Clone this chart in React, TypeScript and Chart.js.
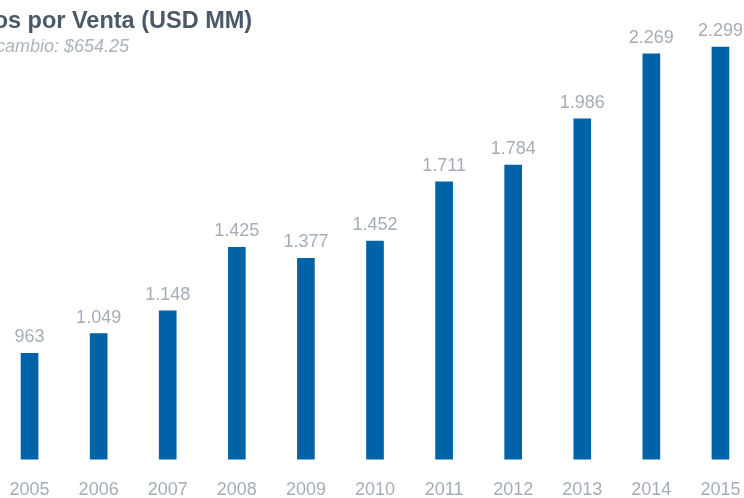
import React, { useEffect, useRef } from "react";
import { Chart, registerables } from "chart.js";

Chart.register(...registerables);

const TITLE = "Ingresos por Venta (USD MM)";
const SUBTITLE = "Tipo de cambio: $654.25";
const YEARS = ["2005", "2006", "2007", "2008", "2009", "2010", "2011", "2012", "2013", "2014", "2015"];
const SALES = [963, 1049, 1148, 1425, 1377, 1452, 1711, 1784, 1986, 2269, 2299];

const BAR_COLOR = "#0062a7";
const LABEL_COLOR = "#a4adb7";
const TITLE_COLOR = "#4a5867";
const SUB_COLOR = "#abb3bc";
const FONT = "'Liberation Sans', Arial, Helvetica, sans-serif";
const SHIFT = 70;

const fmt = (v: number) => v.toString().replace(/\B(?=(\d{3})+(?!\d))/g, ".");

const overlayPlugin = {
  id: "overlay",
  afterDatasetsDraw(chart: any) {
    const ctx = chart.ctx;
    const meta = chart.getDatasetMeta(0);
    ctx.save();
    ctx.font = `18px ${FONT}`;
    ctx.fillStyle = LABEL_COLOR;
    ctx.textAlign = "center";
    ctx.textBaseline = "alphabetic";
    meta.data.forEach((bar: any, i: number) => {
      ctx.fillText(fmt(SALES[i]), bar.x, bar.y - 11);
    });
    ctx.restore();
  },
  afterDraw(chart: any) {
    const ctx = chart.ctx;
    ctx.save();
    ctx.textAlign = "left";
    ctx.textBaseline = "alphabetic";
    ctx.font = `bold 23.5px ${FONT}`;
    ctx.fillStyle = TITLE_COLOR;
    const tx = SHIFT + 8 - ctx.measureText("Ingreso").width;
    ctx.fillText(TITLE, tx, 28);
    ctx.font = `italic 18px ${FONT}`;
    ctx.fillStyle = SUB_COLOR;
    const sx = SHIFT + 5 - ctx.measureText("Tipo de c").width;
    ctx.fillText(SUBTITLE, sx, 52);
    ctx.restore();
  },
};

export default function App() {
  const ref = useRef<HTMLCanvasElement | null>(null);
  useEffect(() => {
    if (!ref.current) return;
    const chart = new Chart(ref.current, {
      type: "bar",
      data: {
        labels: YEARS,
        datasets: [
          {
            data: SALES,
            backgroundColor: BAR_COLOR,
            barThickness: 17,
            borderWidth: 0,
          },
        ],
      },
      options: {
        animation: false,
        responsive: false,
        maintainAspectRatio: false,
        layout: { padding: { left: 65, right: 15, top: 1, bottom: 0 } },
        plugins: { legend: { display: false }, tooltip: { enabled: false }, title: { display: false } },
        scales: {
          x: {
            offset: true,
            grid: { display: false, drawTicks: false },
            border: { display: false },
            ticks: { color: LABEL_COLOR, font: { size: 18, family: FONT }, padding: 20 },
          },
          y: { display: false, min: 500, max: 2500 },
        },
      },
      plugins: [overlayPlugin],
    });
    return () => chart.destroy();
  }, []);
  return (
    <div style={{ position: "absolute", left: 0, top: 0, width: 744, height: 498, overflow: "hidden", background: "#fff" }}>
      <canvas ref={ref} width={840} height={521} style={{ position: "absolute", left: -SHIFT, top: 0, width: 840, height: 521 }} />
    </div>
  );
}
